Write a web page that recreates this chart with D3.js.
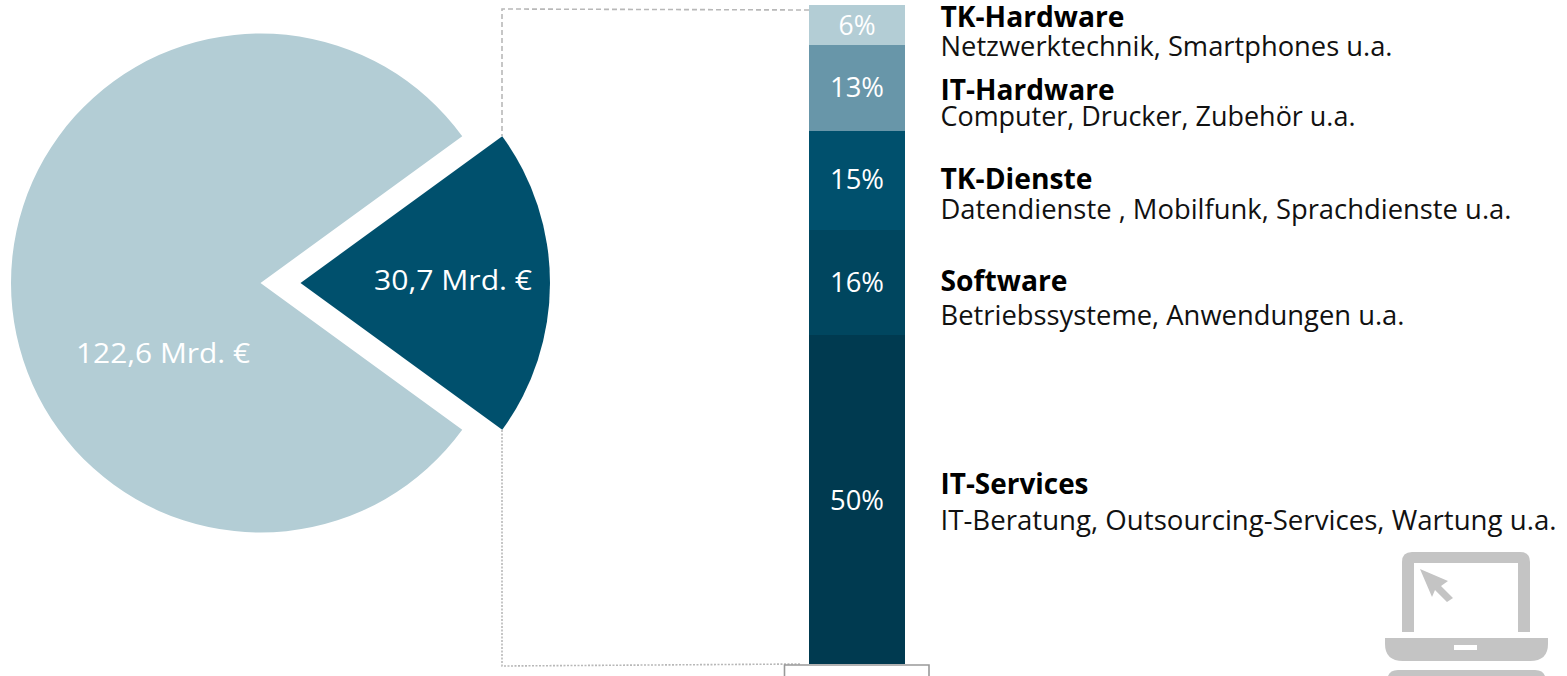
<!DOCTYPE html>
<html><head><meta charset="utf-8">
<script src="https://cdn.jsdelivr.net/npm/d3@7"></script>
<style>html,body{margin:0;padding:0;background:#fff;overflow:hidden}svg{display:block}text{font-family:"Open Sans",sans-serif}</style>
</head><body><svg id="c" width="1567" height="676"></svg>
<script>
const pieLabels = ["122,6 Mrd. €", "30,7 Mrd. €"];
const pieValues = [122.6, 30.7];
const pieColors = ["#b3cdd5", "#00506d"];
const barLabels = ["6%", "13%", "15%", "16%", "50%"];
const barValues = [6.07, 13.05, 15.02, 15.93, 49.93];
const barColors = ["#b3cdd5", "#6896a9", "#00506d", "#00465f", "#003a50"];
const barTitles = ["TK-Hardware", "IT-Hardware", "TK-Dienste", "Software", "IT-Services"];
const barDetails = ["Netzwerktechnik, Smartphones u.a.", "Computer, Drucker, Zubehör u.a.", "Datendienste , Mobilfunk, Sprachdienste u.a.", "Betriebssysteme, Anwendungen u.a.", "IT-Beratung, Outsourcing-Services, Wartung u.a."];

const svg = d3.select("#c");

// layout of the pie
const cx = 260.5, cy = 283, R = 249.5, explode = 40;
const smallShare = pieValues[1] / d3.sum(pieValues);
const start = Math.PI / 2 + smallShare * Math.PI;
const arcs = d3.pie().sort(null).startAngle(start).endAngle(start + 2 * Math.PI)(pieValues);
const arc = d3.arc().innerRadius(0).outerRadius(R);
svg.selectAll("path.slice").data(arcs).join("path").attr("class", "slice")
  .attr("transform", (d, i) => `translate(${cx + (i ? explode : 0)},${cy})`)
  .attr("d", arc).attr("fill", (d, i) => pieColors[i]);
const pieLabelPos = [[163, 363, 174], [453, 290, 158]];
svg.selectAll("text.pl").data(pieLabels).join("text").attr("class", "pl")
  .attr("x", (d, i) => pieLabelPos[i][0]).attr("y", (d, i) => pieLabelPos[i][1])
  .attr("text-anchor", "middle").attr("fill", "#fff").attr("font-size", 28)
  .attr("textLength", (d, i) => pieLabelPos[i][2]).attr("lengthAdjust", "spacingAndGlyphs")
  .text(d => d);

// stacked bar
const y = d3.scaleLinear().domain([0, d3.sum(barValues)]).rangeRound([5, 664]);
let acc = 0;
const stacked = barValues.map((v, i) => { const s = { y0: acc, y1: acc + v, label: barLabels[i] }; acc += v; return s; });

// connector lines
const dash = svg.append("g").attr("fill", "none").attr("stroke", "#b8b8b8");
dash.append("path").attr("d", "M809,10 L502,9 L502,136").attr("stroke-width", 1.6).attr("stroke-dasharray", "5 3");
dash.append("path").attr("d", "M502,430 L502,666 L800,664").attr("stroke-width", 1.6).attr("stroke-dasharray", "2 1.5");

// box below the bar
svg.append("path").attr("d", "M784.5,676 V665 H929 V676").attr("fill", "none").attr("stroke", "#999").attr("stroke-width", 1.6);

svg.selectAll("rect.seg").data(stacked).join("rect").attr("class", "seg")
  .attr("x", 809).attr("width", 96)
  .attr("y", d => y(d.y0)).attr("height", d => y(d.y1) - y(d.y0))
  .attr("fill", (d, i) => barColors[i]);

const pctBase = [35, 97, 189, 292, 510];
const pctW = [37, 54, 54, 54, 54];
svg.selectAll("text.pct").data(stacked).join("text").attr("class", "pct")
  .attr("x", 857).attr("y", (d, i) => pctBase[i]).attr("text-anchor", "middle")
  .attr("fill", "#fff").attr("font-size", 27)
  .attr("textLength", (d, i) => pctW[i]).attr("lengthAdjust", "spacingAndGlyphs")
  .text(d => d.label);

const titleBase = [27, 100, 189, 291, 494];
const titleW = [184, 174, 152, 127, 148];
const detailBase = [56, 126, 219, 325, 530];
const detailW = [452, 415, 571, 464, 616];
svg.selectAll("text.title").data(barTitles).join("text").attr("class", "title")
  .attr("x", 940.5).attr("y", (d, i) => titleBase[i]).attr("font-size", 28).attr("font-weight", 700)
  .attr("fill", "#000").attr("textLength", (d, i) => titleW[i]).attr("lengthAdjust", "spacingAndGlyphs")
  .text(d => d);
svg.selectAll("text.detail").data(barDetails).join("text").attr("class", "detail")
  .attr("x", 940.5).attr("y", (d, i) => detailBase[i]).attr("font-size", 26.5)
  .attr("fill", "#111").attr("textLength", (d, i) => detailW[i]).attr("lengthAdjust", "spacingAndGlyphs")
  .text(d => d);

// laptop icon
const icon = svg.append("g").attr("fill", "#c4c4c4");
icon.append("path").attr("d",
  "M1402,632 V562 Q1402,552 1412,552 H1520 Q1530,552 1530,562 V632 H1518 V563 H1414 V632 Z");
icon.append("path").attr("fill-rule", "evenodd").attr("d",
  "M1385,638 H1548 V644 Q1548,661 1530,661 H1403 Q1385,661 1385,644 Z M1454,645 V650 H1477 V645 Z");
icon.append("path").attr("d", "M1388,676 Q1390,670 1398,670 H1535 Q1543,670 1545,676 Z");
icon.append("path").attr("d", "M1420,569 L1448,581 L1441,586 L1453,598 L1447,602 L1435,590 L1432,597 Z");
</script></body></html>
